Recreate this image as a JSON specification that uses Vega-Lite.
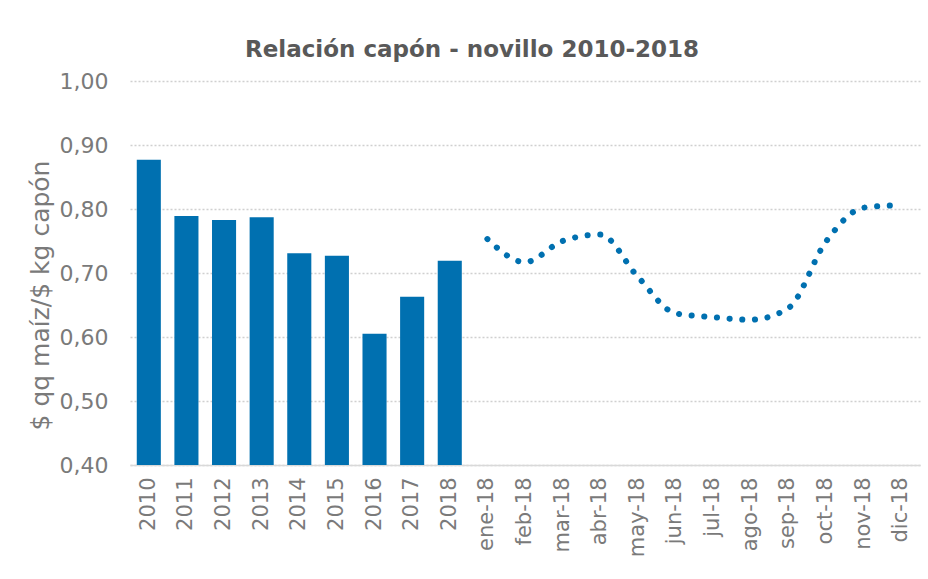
{
  "$schema": "https://vega.github.io/schema/vega-lite/v6.json",
  "autosize": "none",
  "width": 790,
  "height": 384,
  "padding": {"left": 130, "top": 81, "right": 8, "bottom": 114},
  "background": "white",
  "title": {
    "text": "Relación capón - novillo 2010-2018",
    "font": "DejaVu Sans",
    "fontSize": 23,
    "fontWeight": "bold",
    "color": "#595959",
    "anchor": "middle",
    "frame": "group",
    "dx": -53,
    "baseline": "alphabetic",
    "offset": -10
  },
  "data": {
    "values": [
      {"cat": "2010", "tipo": "anual", "valor": 0.877},
      {"cat": "2011", "tipo": "anual", "valor": 0.789},
      {"cat": "2012", "tipo": "anual", "valor": 0.783},
      {"cat": "2013", "tipo": "anual", "valor": 0.787},
      {"cat": "2014", "tipo": "anual", "valor": 0.731},
      {"cat": "2015", "tipo": "anual", "valor": 0.727},
      {"cat": "2016", "tipo": "anual", "valor": 0.605},
      {"cat": "2017", "tipo": "anual", "valor": 0.663},
      {"cat": "2018", "tipo": "anual", "valor": 0.719},
      {"cat": "ene-18", "tipo": "mensual", "valor": 0.753},
      {"cat": "feb-18", "tipo": "mensual", "valor": 0.717},
      {"cat": "mar-18", "tipo": "mensual", "valor": 0.750},
      {"cat": "abr-18", "tipo": "mensual", "valor": 0.760},
      {"cat": "may-18", "tipo": "mensual", "valor": 0.694},
      {"cat": "jun-18", "tipo": "mensual", "valor": 0.637},
      {"cat": "jul-18", "tipo": "mensual", "valor": 0.631},
      {"cat": "ago-18", "tipo": "mensual", "valor": 0.627},
      {"cat": "sep-18", "tipo": "mensual", "valor": 0.645},
      {"cat": "oct-18", "tipo": "mensual", "valor": 0.749},
      {"cat": "nov-18", "tipo": "mensual", "valor": 0.802},
      {"cat": "dic-18", "tipo": "mensual", "valor": 0.806}
    ]
  },
  "encoding": {
    "x": {
      "field": "cat",
      "type": "nominal",
      "sort": null,
      "scale": {"paddingInner": 0.36, "paddingOuter": 0.18},
      "axis": {
        "title": null,
        "labelAngle": -90,
        "labelFont": "DejaVu Sans",
        "labelFontSize": 21,
        "labelColor": "#7a7a7a",
        "labelPadding": 12,
        "ticks": false,
        "domainColor": "#d9d9d9",
        "domainWidth": 1.5,
        "grid": false
      }
    },
    "y": {
      "field": "valor",
      "type": "quantitative",
      "scale": {"domain": [0.4, 1.0], "zero": false, "nice": false},
      "axis": {
        "title": "$ qq maíz/$ kg capón",
        "titleFont": "DejaVu Sans",
        "titleFontSize": 25,
        "titleFontWeight": "normal",
        "titleColor": "#7a7a7a",
        "titlePadding": 6,
        "titleY": 214,
        "values": [0.4, 0.5, 0.6, 0.7, 0.8, 0.9, 1.0],
        "labelExpr": "replace(format(datum.value, '.2f'), '.', ',')",
        "labelFont": "DejaVu Sans",
        "labelFontSize": 22,
        "labelColor": "#7a7a7a",
        "labelPadding": 22,
        "ticks": false,
        "domain": false,
        "grid": true,
        "gridColor": "#d0d0d0",
        "gridDash": [2, 2],
        "gridWidth": 1.5
      }
    }
  },
  "layer": [
    {
      "transform": [{"filter": "datum.tipo === 'anual'"}],
      "mark": {"type": "bar", "color": "#0070B0"},
      "encoding": {"y2": {"datum": 0.4}}
    },
    {
      "transform": [{"filter": "datum.tipo === 'mensual'"}],
      "mark": {
        "type": "line",
        "color": "#0070B0",
        "interpolate": "monotone",
        "strokeWidth": 6,
        "strokeCap": "round",
        "strokeDash": [0.1, 12.6]
      },
      "encoding": {}
    }
  ],
  "config": {"view": {"stroke": null}}
}
